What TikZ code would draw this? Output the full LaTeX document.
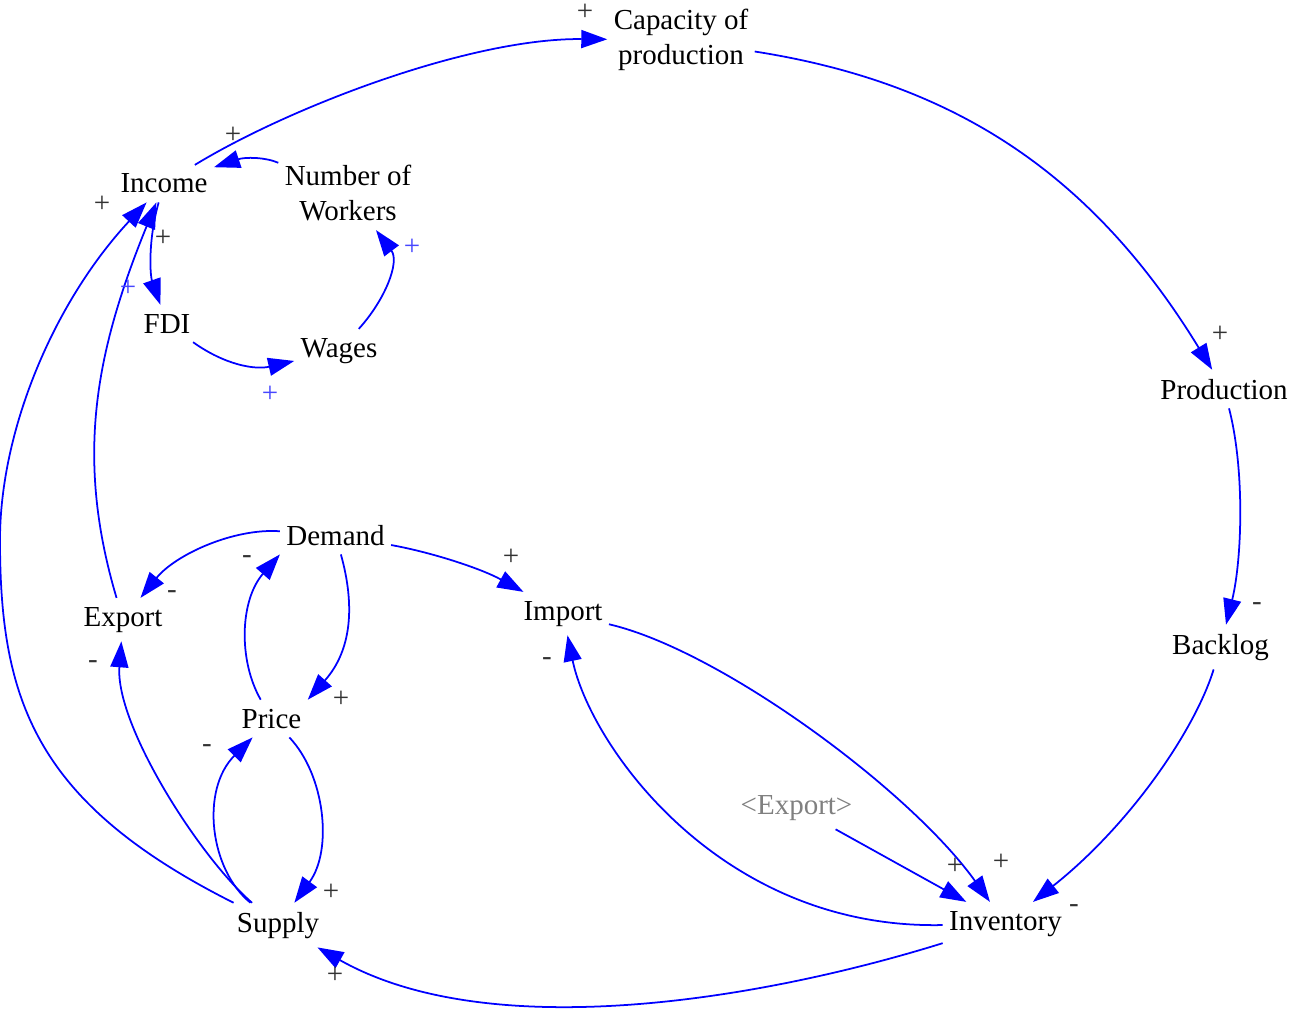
\documentclass[tikz,border=0pt]{standalone}
\usepackage{fontspec}
\setmainfont{Liberation Serif}
\usetikzlibrary{arrows.meta}
\definecolor{linkblue}{RGB}{0,0,255}
\definecolor{polblue}{RGB}{70,70,255}
\definecolor{polgray}{RGB}{50,50,50}
\definecolor{shadowgray}{RGB}{128,128,128}
\begin{document}
\begin{tikzpicture}[x=0.02cm,y=-0.02cm,
  var/.style={font=\fontsize{16.5}{20}\selectfont, inner xsep=3.5pt, inner ysep=5pt, align=center},
  link/.style={draw=linkblue, line width=1pt, -{Triangle[length=0.52cm,width=0.36cm]}},
  pol/.style={font=\fontsize{16.5}{20}\selectfont, text=polgray, inner sep=0pt},
  polb/.style={pol, text=polblue}]
\useasboundingbox (0,0) rectangle (1298,1024);

% variables
\node[var] (capacity) at (681,40) {Capacity of\\production};
\node[var, anchor=base] (income) at (164,193) {Income};
\node[var] (workers) at (348,193) {Number of\\Workers};
\node[var, anchor=base] (fdi) at (167,333) {FDI};
\node[var, anchor=base] (wages) at (339,357) {Wages};
\node[var, anchor=base] (production) at (1224,399) {Production};
\node[var, anchor=base] (backlog) at (1220.5,654) {Backlog};
\node[var, anchor=base] (demand) at (335.5,545) {Demand};
\node[var, anchor=base] (export) at (123,626) {Export};
\node[var, anchor=base] (price) at (271.5,728) {Price};
\node[var, anchor=base] (import) at (563,620) {Import};
\node[var, anchor=base] (supply) at (278,932) {Supply};
\node[var, anchor=base] (inventory) at (1005.5,930) {Inventory};
\node[var, anchor=base, text=shadowgray] (oldexport) at (796.5,814) {<Export>};

% links
\draw[link] (income) .. controls (290,107) and (470,38) .. (capacity);
\draw[link] (capacity) .. controls (950,82) and (1090,170) .. (production);
\draw[link] (production) .. controls (1245,470) and (1242,560) .. (backlog);
\draw[link] (backlog) .. controls (1195,730) and (1130,825) .. (inventory);
\draw[link] (inventory) .. controls (760,1000) and (490,1045) .. (supply);
\draw[link] (inventory) .. controls (720,930) and (590,745) .. (import);
\draw[link] (import) .. controls (720,650) and (910,790) .. (inventory);
\draw[link] (oldexport) -- (inventory);
\draw[link] (demand) .. controls (430,552) and (480,568) .. (import);
\draw[link] (demand) .. controls (233,528) and (175,555) .. (export);
\draw[link] (demand) .. controls (355,605) and (352,650) .. (price.north east);
\draw[link] (price) .. controls (238,660) and (240,600) .. (demand.south west);
\draw[link] (price) .. controls (325,775) and (333,850) .. (supply);
\draw[link] (supply) .. controls (210,870) and (200,790) .. (price);
\draw[link] (supply) .. controls (200,858) and (115,725) .. (export);
\draw[link] (supply) .. controls (35,803) and (0,700) .. (0,540) .. controls (0,430) and (54,302) .. (income);
\draw[link] (export) .. controls (75,458) and (95,353) .. (income);
\draw[link] (income) .. controls (148,240) and (150,275) .. (fdi);
\draw[link] (workers) .. controls (265,157) and (245,157) .. (income);
\draw[link] (fdi) .. controls (225,365) and (255,370) .. (wages);
\draw[link] (wages) .. controls (385,300) and (400,262) .. (workers);

% polarities
\node[pol] (p1) at (585,12) {+};
\node[pol] (p2) at (1220,334) {+};
\node[pol] (p3) at (1257,607) {-};
\node[pol] (p4) at (1074,909) {-};
\node[pol] (p5) at (335,975) {+};
\node[pol] (p6) at (547,662) {-};
\node[pol] (p7) at (1001,862) {+};
\node[pol] (p8) at (955,866) {+};
\node[pol] (p9) at (511,557) {+};
\node[pol] (p10) at (172,595) {-};
\node[pol] (p11) at (341,699) {+};
\node[pol] (p12) at (247,560) {-};
\node[pol] (p13) at (331,892) {+};
\node[pol] (p14) at (207,749) {-};
\node[pol] (p15) at (93,665) {-};
\node[pol] (p16) at (102,204) {+};
\node[polb] (p17) at (128,288) {+};
\node[pol] (p18) at (163,238) {+};
\node[pol] (p19) at (233,135) {+};
\node[polb] (p20) at (270,394) {+};
\node[polb] (p21) at (412,247) {+};
\end{tikzpicture}
\end{document}
